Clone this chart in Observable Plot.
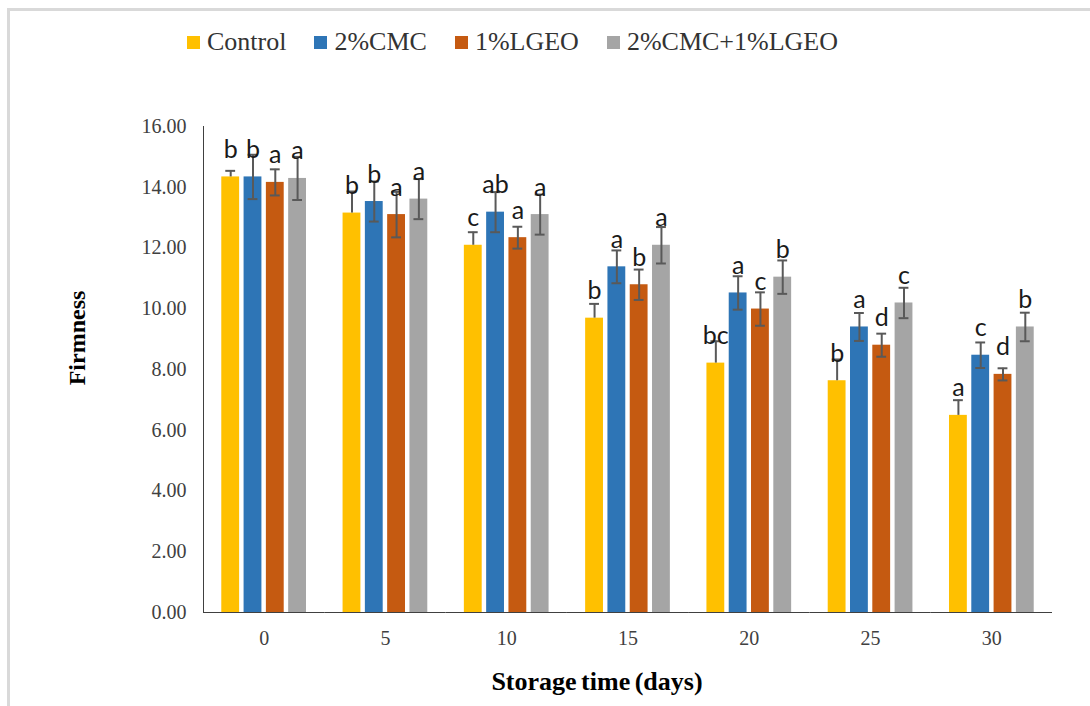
<!DOCTYPE html>
<html>
<head>
<meta charset="utf-8">
<script src="https://cdn.jsdelivr.net/npm/d3@7"></script>
<script src="https://cdn.jsdelivr.net/npm/@observablehq/plot@0.6"></script>
<style>
html,body{margin:0;padding:0;background:#fff;overflow:hidden;width:1090px;height:706px}
#wrap{position:relative;width:1090px;height:706px;overflow:hidden}
#border{position:absolute;left:7px;top:8px;width:1200px;height:800px;border-left:3px solid #d9d9d9;border-top:3px solid #d9d9d9;box-sizing:border-box}
#chart{position:absolute;left:0;top:0}
#legend{position:absolute;left:187px;top:27px;display:flex;gap:28px;font-family:"Liberation Serif","Times New Roman",serif;font-size:26px;color:#333;line-height:30px}
.item{display:flex;align-items:center}
.sw{width:13px;height:13px;margin-right:7px}
#ytitle{position:absolute;left:77px;top:338px;transform:translate(-50%,-50%) rotate(-90deg);font:bold 24px "Liberation Serif",serif;white-space:nowrap;color:#000}
#xtitle{position:absolute;left:597px;top:682px;transform:translate(-50%,-50%);font:bold 26px "Liberation Serif",serif;white-space:nowrap;word-spacing:-2px;color:#000}
</style>
</head>
<body>
<div id="wrap">
  <div id="border"></div>
  <div id="chart"></div>
  <div id="legend"></div>
  <div id="ytitle">Firmness</div>
  <div id="xtitle">Storage time (days)</div>
</div>
<script>
// ---- data ----
const days = [0, 5, 10, 15, 20, 25, 30];
const series = ["Control", "2%CMC", "1%LGEO", "2%CMC+1%LGEO"];
const colors = ["#FFC000", "#2E75B6", "#C55A11", "#A5A5A5"];

const control = [14.34, 13.15, 12.09, 9.69, 8.21, 7.63, 6.49];
const cmc     = [14.34, 13.53, 13.18, 11.38, 10.52, 9.40, 8.47];
const lgeo    = [14.16, 13.10, 12.34, 10.79, 9.99, 8.80, 7.84];
const combo   = [14.29, 13.61, 13.10, 12.09, 11.04, 10.19, 9.40];

const controlErr = [0.20, 0.71, 0.43, 0.47, 0.72, 0.70, 0.50];
const cmcErr     = [0.73, 0.66, 0.66, 0.54, 0.55, 0.46, 0.42];
const lgeoErr    = [0.43, 0.75, 0.36, 0.50, 0.55, 0.38, 0.20];
const comboErr   = [0.71, 0.66, 0.66, 0.60, 0.55, 0.50, 0.47];

const controlLetters = ["b", "b", "c", "b", "bc", "b", "a"];
const cmcLetters     = ["b", "b", "ab", "a", "a", "a", "c"];
const lgeoLetters    = ["a", "a", "a", "b", "c", "d", "d"];
const comboLetters   = ["a", "a", "a", "a", "b", "c", "b"];

const yTicks = [0, 2, 4, 6, 8, 10, 12, 14, 16];

// ---- table ----
const values = [control, cmc, lgeo, combo];
const errs = [controlErr, cmcErr, lgeoErr, comboErr];
const letters = [controlLetters, cmcLetters, lgeoLetters, comboLetters];
const rows = [];
days.forEach((d, i) => series.forEach((s, j) => rows.push({
  day: d, series: s, value: values[j][i], err: errs[j][i], letter: letters[j][i], plusOnly: j === 0
})));

// ---- legend ----
const legend = document.getElementById("legend");
series.forEach((s, j) => {
  const it = document.createElement("div");
  it.className = "item";
  const sw = document.createElement("span");
  sw.className = "sw";
  sw.style.background = colors[j];
  const tx = document.createElement("span");
  tx.textContent = s;
  it.appendChild(sw); it.appendChild(tx);
  legend.appendChild(it);
});

// ---- chart ----
const errColor = "#595959";
const chart = Plot.plot({
  width: 1090,
  height: 706,
  marginLeft: 203,
  marginRight: 38,
  marginTop: 126,
  marginBottom: 94,
  style: {fontFamily: "'Liberation Serif', 'Times New Roman', serif", fontSize: "20px", color: "#404040", background: "transparent", overflow: "visible"},
  fx: {domain: days, paddingInner: 0, paddingOuter: 0, round: false, label: null, tickSize: 0, tickPadding: 18, axis: "bottom"},
  x: {domain: series, axis: null, paddingInner: 0.2, paddingOuter: 0.82, round: false},
  y: {domain: [0, 16], ticks: yTicks, tickFormat: d3.format(".2f"), tickSize: 0, tickPadding: 17, label: null, line: true},
  color: {domain: series, range: colors},
  marks: [
    Plot.barY(rows, {fx: "day", x: "series", y: "value", fill: "series"}),
    Plot.ruleY([0], {stroke: "#404040"}),
    Plot.ruleX(rows, {fx: "day", x: "series", y1: d => d.plusOnly ? d.value : d.value - d.err, y2: d => d.value + d.err, stroke: errColor, strokeWidth: 2}),
    Plot.tickY(rows, {fx: "day", x: "series", y: d => d.value + d.err, stroke: errColor, strokeWidth: 2, insetLeft: 4, insetRight: 4}),
    Plot.tickY(rows.filter(d => !d.plusOnly), {fx: "day", x: "series", y: d => d.value - d.err, stroke: errColor, strokeWidth: 2, insetLeft: 4, insetRight: 4}),
    Plot.text(rows, {fx: "day", x: "series", y: "value", text: "letter", dy: -27, fontFamily: "Lato, 'Open Sans', sans-serif", fontSize: 25, fill: "#1a1a1a"})
  ]
});
document.getElementById("chart").appendChild(chart);
</script>
</body>
</html>
